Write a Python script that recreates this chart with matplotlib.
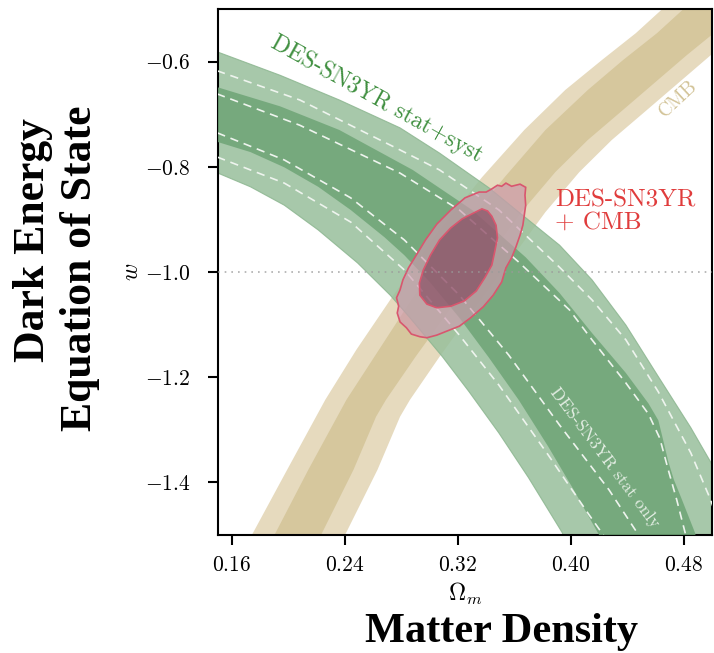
import numpy as np
import matplotlib
matplotlib.use("Agg")
import matplotlib.pyplot as plt

plt.rcParams['mathtext.fontset'] = 'cm'
plt.rcParams['font.family'] = ['cmr10', 'DejaVu Serif']
plt.rcParams['axes.formatter.use_mathtext'] = True

# ---------------- data ----------------
x_ticks = [0.16, 0.24, 0.32, 0.40, 0.48]
x_tick_labels = ['$0.16$', '$0.24$', '$0.32$', '$0.40$', '$0.48$']
y_ticks = [-0.6, -0.8, -1.0, -1.2, -1.4]
y_tick_labels = ['$-0.6$', '$-0.8$', '$-1.0$', '$-1.2$', '$-1.4$']

# DES-SN3YR stat+syst, 2 sigma (outer) band edges
sn_syst_2sig_up_om = [0.140, 0.150, 0.194, 0.236, 0.279, 0.307, 0.342, 0.363, 0.392, 0.415, 0.439, 0.462, 0.485, 0.499, 0.508]
sn_syst_2sig_up_w = [-0.571, -0.582, -0.626, -0.673, -0.726, -0.774, -0.840, -0.886, -0.949, -1.015, -1.101, -1.199, -1.296, -1.361, -1.410]
sn_syst_2sig_lo_om = [0.140, 0.150, 0.173, 0.197, 0.221, 0.249, 0.272, 0.286, 0.309, 0.328, 0.349, 0.370, 0.394, 0.397]
sn_syst_2sig_lo_w = [-0.801, -0.812, -0.838, -0.873, -0.920, -0.983, -1.044, -1.087, -1.161, -1.228, -1.306, -1.391, -1.496, -1.520]
# DES-SN3YR stat+syst, 1 sigma (inner) band edges
sn_syst_1sig_up_om = [0.140, 0.150, 0.194, 0.236, 0.288, 0.330, 0.368, 0.392, 0.415, 0.439, 0.455, 0.462, 0.465, 0.469, 0.473, 0.478, 0.488, 0.490]
sn_syst_1sig_up_w = [-0.641, -0.649, -0.685, -0.730, -0.806, -0.882, -0.972, -1.040, -1.116, -1.192, -1.250, -1.282, -1.315, -1.360, -1.395, -1.428, -1.496, -1.520]
sn_syst_1sig_lo_om = [0.140, 0.150, 0.173, 0.197, 0.221, 0.244, 0.268, 0.282, 0.300, 0.321, 0.342, 0.363, 0.384, 0.402, 0.420, 0.424]
sn_syst_1sig_lo_w = [-0.745, -0.753, -0.772, -0.801, -0.838, -0.882, -0.934, -0.968, -1.019, -1.087, -1.163, -1.243, -1.332, -1.414, -1.500, -1.520]

# DES-SN3YR stat only (dashed contours)
sn_stat_2sig_up_om = [0.140, 0.150, 0.208, 0.279, 0.307, 0.349, 0.392, 0.415, 0.439, 0.462, 0.485, 0.499, 0.505]
sn_stat_2sig_up_w = [-0.607, -0.618, -0.673, -0.768, -0.806, -0.882, -0.991, -1.053, -1.129, -1.228, -1.344, -1.433, -1.480]
sn_stat_1sig_up_om = [0.140, 0.150, 0.208, 0.279, 0.321, 0.363, 0.399, 0.415, 0.439, 0.455, 0.463, 0.469, 0.475, 0.481, 0.483]
sn_stat_1sig_up_w = [-0.651, -0.662, -0.721, -0.812, -0.882, -0.981, -1.072, -1.129, -1.211, -1.270, -1.316, -1.376, -1.433, -1.496, -1.520]
sn_stat_1sig_lo_om = [0.140, 0.150, 0.197, 0.244, 0.282, 0.321, 0.356, 0.392, 0.427, 0.448, 0.451]
sn_stat_1sig_lo_w = [-0.727, -0.736, -0.787, -0.859, -0.939, -1.044, -1.158, -1.291, -1.414, -1.500, -1.520]
sn_stat_2sig_lo_om = [0.140, 0.150, 0.197, 0.244, 0.282, 0.321, 0.349, 0.384, 0.413, 0.423, 0.426]
sn_stat_2sig_lo_w = [-0.772, -0.782, -0.831, -0.905, -0.996, -1.120, -1.215, -1.348, -1.462, -1.500, -1.520]

# CMB band edges
cmb_2sig_left_om = [0.170, 0.174, 0.199, 0.226, 0.248, 0.272, 0.304, 0.337, 0.367, 0.396, 0.422, 0.446, 0.464, 0.520]
cmb_2sig_left_w = [-1.520, -1.500, -1.376, -1.243, -1.148, -1.053, -0.930, -0.820, -0.730, -0.654, -0.597, -0.546, -0.502, -0.400]
cmb_2sig_right_om = [0.236, 0.240, 0.263, 0.279, 0.286, 0.307, 0.331, 0.356, 0.382, 0.406, 0.429, 0.453, 0.476, 0.499, 0.520]
cmb_2sig_right_w = [-1.520, -1.500, -1.376, -1.275, -1.243, -1.161, -1.072, -0.981, -0.886, -0.810, -0.749, -0.694, -0.641, -0.588, -0.540]
cmb_1sig_left_om = [0.186, 0.190, 0.214, 0.241, 0.264, 0.287, 0.320, 0.353, 0.382, 0.412, 0.437, 0.461, 0.479, 0.520]
cmb_1sig_left_w = [-1.520, -1.500, -1.376, -1.243, -1.148, -1.053, -0.930, -0.820, -0.730, -0.654, -0.597, -0.546, -0.502, -0.420]
cmb_1sig_right_om = [0.219, 0.223, 0.246, 0.262, 0.269, 0.290, 0.314, 0.339, 0.365, 0.389, 0.412, 0.436, 0.459, 0.482, 0.520]
cmb_1sig_right_w = [-1.520, -1.500, -1.376, -1.275, -1.243, -1.161, -1.072, -0.981, -0.886, -0.810, -0.749, -0.694, -0.641, -0.588, -0.505]

# DES-SN3YR + CMB contours
comb_2sig_om = [0.335, 0.340, 0.344, 0.348, 0.351, 0.354, 0.358, 0.361, 0.364, 0.368, 0.3675, 0.368, 0.367, 0.366,
                0.364, 0.361, 0.358, 0.354, 0.351, 0.345, 0.338, 0.329, 0.321, 0.3125, 0.305, 0.298, 0.293, 0.287,
                0.2835, 0.279, 0.277, 0.278, 0.2765, 0.279, 0.281, 0.285, 0.290, 0.297, 0.305, 0.315, 0.325]
comb_2sig_w = [-0.848, -0.848, -0.842, -0.835, -0.837, -0.831, -0.837, -0.835, -0.833, -0.839, -0.854, -0.873, -0.892, -0.911,
               -0.930, -0.953, -0.973, -0.992, -1.019, -1.044, -1.066, -1.087, -1.103, -1.112, -1.120, -1.125, -1.123, -1.118,
               -1.106, -1.095, -1.078, -1.065, -1.049, -1.034, -1.015, -0.992, -0.970, -0.939, -0.909, -0.882, -0.859]
comb_1sig_om = [0.337, 0.341, 0.344, 0.347, 0.348, 0.346, 0.344, 0.339, 0.333, 0.3245, 0.315, 0.305, 0.298, 0.293,
                0.2927, 0.2955, 0.3005, 0.307, 0.315, 0.323, 0.331]
comb_1sig_w = [-0.880, -0.884, -0.894, -0.911, -0.935, -0.962, -0.987, -1.011, -1.036, -1.055, -1.065, -1.068, -1.061, -1.044,
               -1.021, -0.996, -0.968, -0.939, -0.916, -0.899, -0.888]

w_lcdm = -1.0

# ---------------- figure ----------------
fig = plt.figure(figsize=(7.14, 6.53), dpi=100)
ax = fig.add_axes([0.3053, 0.1807, 0.6919, 0.8055])
XMIN, XMAX, YMIN, YMAX = 0.15, 0.50, -1.5, -0.5
ax.set_xlim(XMIN, XMAX)
ax.set_ylim(YMIN, YMAX)

corner = (XMAX + 0.05, YMIN - 0.05)


def band(up_x, up_y, lo_x, lo_y, **kw):
    xs = list(up_x) + [corner[0]] + list(lo_x)[::-1]
    ys = list(up_y) + [corner[1]] + list(lo_y)[::-1]
    ax.fill(xs, ys, **kw)


def strip(l_x, l_y, r_x, r_y, **kw):
    xs = list(l_x) + list(r_x)[::-1]
    ys = list(l_y) + list(r_y)[::-1]
    ax.fill(xs, ys, **kw)


# CMB
strip(cmb_2sig_left_om, cmb_2sig_left_w, cmb_2sig_right_om, cmb_2sig_right_w,
      color='#e6dabe', lw=0, zorder=1)
strip(cmb_1sig_left_om, cmb_1sig_left_w, cmb_1sig_right_om, cmb_1sig_right_w,
      color='#d6c79d', lw=0, zorder=1.1)

# SN stat+syst
band(sn_syst_2sig_up_om, sn_syst_2sig_up_w, sn_syst_2sig_lo_om, sn_syst_2sig_lo_w,
     facecolor='#98bf9b', alpha=0.85, edgecolor='#8cb690', lw=0.8, zorder=2)
band(sn_syst_1sig_up_om, sn_syst_1sig_up_w, sn_syst_1sig_lo_om, sn_syst_1sig_lo_w,
     facecolor='#6ea476', alpha=0.85, lw=0, zorder=3)

# SN stat only (dashed)
for xs, ys in [(sn_stat_2sig_up_om, sn_stat_2sig_up_w), (sn_stat_1sig_up_om, sn_stat_1sig_up_w),
               (sn_stat_1sig_lo_om, sn_stat_1sig_lo_w), (sn_stat_2sig_lo_om, sn_stat_2sig_lo_w)]:
    ax.plot(xs, ys, color='#eef4ee', lw=1.2, ls=(0, (5, 3.5)), zorder=4)

# combined contours
ax.fill(comb_2sig_om, comb_2sig_w, facecolor='#cf9ab0', alpha=0.65, zorder=5)
ax.fill(comb_2sig_om, comb_2sig_w, facecolor='none', edgecolor='#d9566e', lw=1.2, zorder=5.5)
ax.fill(comb_1sig_om, comb_1sig_w, facecolor='#7a3550', alpha=0.55, zorder=6)
ax.fill(comb_1sig_om, comb_1sig_w, facecolor='none', edgecolor='#d9566e', lw=1.2, zorder=6.5)

# w = -1 reference
ax.axhline(w_lcdm, color='#9a9a9a', lw=1.2, ls=(0, (1, 3)), zorder=7, alpha=0.8)

# annotations
ax.text(0.2625, -0.672, 'DES-SN3YR stat+syst', color='#3f8f3f', fontsize=17,
        rotation=-29, rotation_mode='anchor', ha='center', va='center', zorder=8)
ax.text(0.389, -0.842, 'DES-SN3YR\n+ CMB', color='#e03c3c', fontsize=18,
        ha='left', va='top', linespacing=1.05, zorder=8)
ax.text(0.476, -0.670, 'CMB', color='#d2c397', fontsize=14,
        rotation=43, rotation_mode='anchor', ha='center', va='center', zorder=8)
ax.text(0.424, -1.353, 'DES-SN3YR stat only', color='#e4eee4', fontsize=12.5,
        rotation=-53, rotation_mode='anchor', ha='center', va='center', zorder=8)

# axes styling
ax.set_xticks(x_ticks)
ax.set_xticklabels(x_tick_labels)
ax.set_yticks(y_ticks)
ax.set_yticklabels(y_tick_labels)
ax.tick_params(direction='out', length=7, width=1.5, labelsize=15.5,
               top=False, right=False)
ax.tick_params(axis='x', pad=8)
ax.tick_params(axis='y', pad=13)
for s in ax.spines.values():
    s.set_linewidth(1.5)
ax.set_xlabel(r'$\Omega_m$', fontsize=17, labelpad=4)
ax.set_ylabel(r'$w$', fontsize=17, labelpad=1)

# big descriptive labels
fig.text(33 / 714, 1 - 240 / 653, 'Dark Energy', rotation=90,
         ha='center', va='center', fontsize=31.5,
         fontweight='bold', family='Liberation Serif')
fig.text(80 / 714, 1 - 268 / 653, 'Equation of State', rotation=90,
         ha='center', va='center', fontsize=31.5,
         fontweight='bold', family='Liberation Serif')
fig.text(502 / 714, 1 - 632 / 653, 'Matter Density', ha='center', va='center',
         fontsize=30.5, fontweight='bold', family='Liberation Serif')

fig.savefig('out.png', dpi=100)
